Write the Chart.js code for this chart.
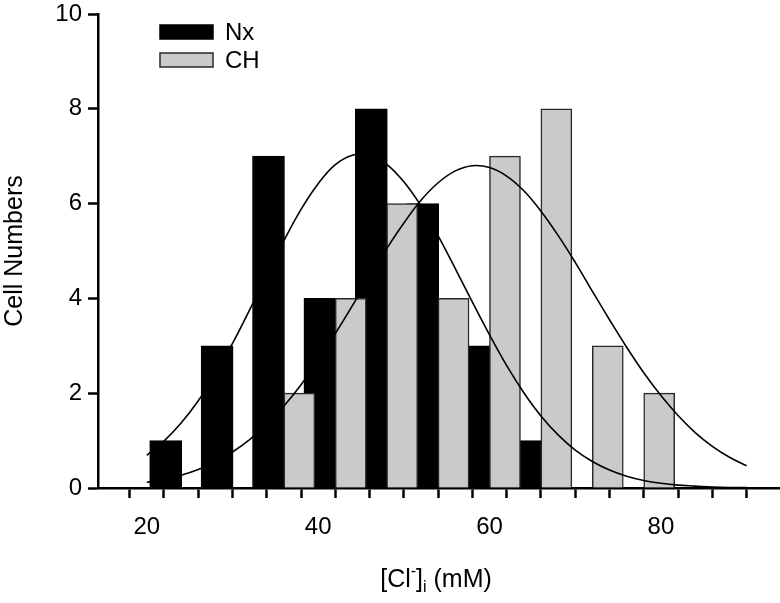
<!DOCTYPE html>
<html>
<head>
<meta charset="utf-8">
<script src="https://cdn.jsdelivr.net/npm/chart.js@4.4.1/dist/chart.umd.min.js"></script>
<style>
    body { margin: 0; background: #fff; }
    #caixa { width: 780px; height: 603px; }
</style>
</head>
<body>
<div id="caixa"><canvas id="histograma"></canvas></div>
<script>
// histogram bins (bar centres) and counts
const nxCentros = [22.2, 28.2, 34.2, 40.2, 46.2, 52.2, 58.2, 64.2];
const nxContagem = [1, 3, 7, 4, 8, 6, 3, 1];
const chCentros = [37.8, 43.8, 49.8, 55.8, 61.8, 67.8, 73.8, 79.8];
const chContagem = [2, 4, 6, 4, 7, 8, 3, 2];

// fitted curves, read point by point
const curvaX = [20, 22, 24, 26, 28, 30, 32, 34, 36, 38, 40, 42, 44, 46, 48, 50, 52, 54,
                56, 58, 60, 62, 64, 66, 68, 70, 72, 74, 76, 78, 80, 82, 84, 86, 88, 90];
const nxCurva = [0.69, 0.99, 1.37, 1.84, 2.41, 3.05, 3.76, 4.50, 5.22, 5.88, 6.42, 6.82,
                 7.02, 7.03, 6.83, 6.46, 5.95, 5.32, 4.63, 3.92, 3.23, 2.58, 2.01, 1.52,
                 1.12, 0.80, 0.56, 0.38, 0.25, 0.16, 0.10, 0.06, 0.04, 0.02, 0.01, 0.01];
const chCurva = [0.12, 0.19, 0.27, 0.39, 0.55, 0.76, 1.02, 1.34, 1.73, 2.18, 2.70, 3.26,
                 3.85, 4.46, 5.05, 5.59, 6.07, 6.44, 6.69, 6.80, 6.76, 6.58, 6.27, 5.84,
                 5.33, 4.76, 4.15, 3.55, 2.97, 2.43, 1.95, 1.53, 1.17, 0.88, 0.65, 0.47];

// axes
const xTicks = [16, 20, 24, 28, 32, 36, 40, 44, 48, 52, 56, 60, 64, 68, 72, 76, 80, 84, 88, 92];
const xRotulos = [20, 40, 60, 80];
const yTicks = [0, 2, 4, 6, 8, 10];

const fonte = "'Liberation Sans', Arial, sans-serif";

function pares(xs, ys) {
    return xs.map((x, i) => ({ x: x, y: ys[i] }));
}

// legend with long boxes in the upper left corner
const legendaCaixas = {
    id: 'legendaCaixas',
    afterDraw(chart) {
        const ctx = chart.ctx;
        const area = chart.chartArea;
        let linha = 0;
        ctx.save();
        chart.data.datasets.forEach(ds => {
            if (ds.type === 'line') {
                return;
            }
            const x = area.left + 62;
            const y = 25 + linha * 28;
            ctx.fillStyle = ds.backgroundColor;
            ctx.fillRect(x, y, 53, 14);
            ctx.strokeStyle = ds.borderColor;
            ctx.lineWidth = 1.5;
            ctx.strokeRect(x, y, 53, 14);
            ctx.fillStyle = '#000';
            ctx.font = '24px ' + fonte;
            ctx.textBaseline = 'middle';
            ctx.textAlign = 'left';
            ctx.fillText(ds.label, x + 65, y + 8);
            linha++;
        });
        ctx.restore();
    }
};

// x axis title with superscript and subscript
const tituloX = {
    id: 'tituloX',
    afterDraw(chart) {
        const ctx = chart.ctx;
        const partes = [
            { t: '[Cl', tam: 25, dy: 0 },
            { t: '-', tam: 16, dy: -11 },
            { t: ']', tam: 25, dy: 0 },
            { t: 'i', tam: 16, dy: 5 },
            { t: ' (mM)', tam: 25, dy: 0 }
        ];
        ctx.save();
        ctx.fillStyle = '#000';
        ctx.textBaseline = 'alphabetic';
        ctx.textAlign = 'left';
        let total = 0;
        partes.forEach(p => {
            ctx.font = p.tam + 'px ' + fonte;
            p.w = ctx.measureText(p.t).width;
            total += p.w;
        });
        let x = 436 - total / 2;
        const base = 587;
        partes.forEach(p => {
            ctx.font = p.tam + 'px ' + fonte;
            ctx.fillText(p.t, x, base + p.dy);
            x += p.w;
        });
        ctx.restore();
    }
};

const ctx = document.getElementById('histograma').getContext('2d');
new Chart(ctx, {
    type: 'bar',
    data: {
        datasets: [
            {
                label: 'Nx',
                data: pares(nxCentros, nxContagem),
                backgroundColor: '#000000',
                borderColor: '#000000',
                borderWidth: 1,
                barThickness: 32,
                grouped: false,
                order: 2
            },
            {
                label: 'CH',
                data: pares(chCentros, chContagem),
                backgroundColor: '#cacaca',
                borderColor: '#2a2a2a',
                borderWidth: 1.5,
                barThickness: 31,
                grouped: false,
                order: 1
            },
            {
                type: 'line',
                label: 'Nx fit',
                data: pares(curvaX, nxCurva),
                borderColor: '#000',
                borderWidth: 1.6,
                pointRadius: 0,
                tension: 0.4,
                fill: false,
                order: 0
            },
            {
                type: 'line',
                label: 'CH fit',
                data: pares(curvaX, chCurva),
                borderColor: '#000',
                borderWidth: 1.6,
                pointRadius: 0,
                tension: 0.4,
                fill: false,
                order: 0
            }
        ]
    },
    options: {
        responsive: true,
        maintainAspectRatio: false,
        animation: false,
        layout: {
            padding: { top: 14, right: 0, bottom: 0, left: 0 }
        },
        plugins: {
            legend: { display: false },
            tooltip: { enabled: false }
        },
        scales: {
            x: {
                type: 'linear',
                min: 14.3,
                max: 93.9,
                offset: false,
                afterFit: s => {
                    s.height = 115;
                    s.paddingLeft = 0;
                    s.paddingRight = 0;
                },
                afterBuildTicks: s => { s.ticks = xTicks.map(v => ({ value: v })); },
                border: { display: true, color: '#000', width: 2.5 },
                grid: {
                    drawOnChartArea: false,
                    drawTicks: true,
                    tickLength: 10,
                    tickWidth: 2.5,
                    tickColor: '#000'
                },
                ticks: {
                    color: '#000',
                    font: { family: fonte, size: 24 },
                    padding: 15,
                    maxRotation: 0,
                    autoSkip: false,
                    callback: v => xRotulos.includes(v) ? String(v) : ''
                }
            },
            y: {
                min: 0,
                max: 10,
                afterFit: s => {
                    s.width = 98;
                    s.paddingTop = 0;
                    s.paddingBottom = 0;
                },
                afterBuildTicks: s => { s.ticks = yTicks.map(v => ({ value: v })); },
                border: { display: true, color: '#000', width: 2.5 },
                grid: {
                    drawOnChartArea: false,
                    drawTicks: true,
                    tickLength: 10,
                    tickWidth: 2.5,
                    tickColor: '#000'
                },
                ticks: {
                    color: '#000',
                    font: { family: fonte, size: 24 },
                    padding: 6
                },
                title: {
                    display: true,
                    text: 'Cell Numbers',
                    color: '#000',
                    font: { family: fonte, size: 25 },
                    padding: { top: 0, bottom: 0 }
                }
            }
        }
    },
    plugins: [legendaCaixas, tituloX]
});
</script>
</body>
</html>
